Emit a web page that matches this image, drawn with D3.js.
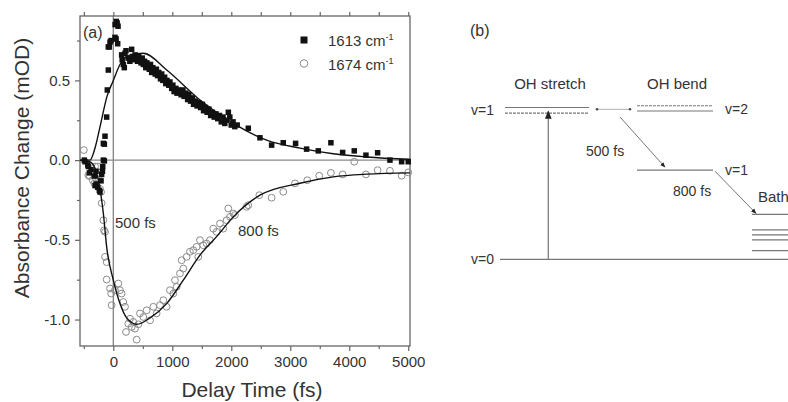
<!DOCTYPE html>
<html>
<head>
<meta charset="utf-8">
<script src="https://cdn.jsdelivr.net/npm/d3@7"></script>
<style>
  body { margin: 0; background: #fff; }
  text { font-family: "Liberation Sans", Arial, sans-serif; }
</style>
</head>
<body>
<script>
// ---- data ----
// 1613 cm-1 (filled squares): [delay fs, mOD]
const sq1613 = [
  [-492, 0], [-480, -0.01], [-434, -0.03], [-424, -0.04], [-406, -0.08], [-378, -0.06],
  [-322, -0.1], [-310, -0.16], [-293, -0.15], [-293, -0.07], [-265, -0.17], [-237, -0.19],
  [-226, -0.2], [-208, -0.13], [-198, -0.09], [-184, -0.07], [-180, -0.04], [-169, 0],
  [-152, -0.005], [-152, 0.1], [-169, 0.105], [-141, 0.15], [-113, 0.27], [-102, 0.44],
  [-85, 0.565], [-85, 0.71], [-68, 0.71], [-56, 0.74], [-39, 0.75], [28, 0.77], [47, 0.76],
  [74, 0.73], [30, 0.85], [50, 0.87], [65, 0.86], [80, 0.84],
  [141, 0.66], [150, 0.63], [170, 0.6], [186, 0.58], [198, 0.67], [215, 0.686], [250, 0.64],
  [280, 0.62], [311, 0.695], [330, 0.65], [350, 0.63], [370, 0.66], [390, 0.64], [410, 0.62],
  [430, 0.65], [450, 0.63], [470, 0.61], [490, 0.64], [510, 0.6], [530, 0.62], [550, 0.58],
  [570, 0.61], [590, 0.59], [610, 0.57], [630, 0.6], [650, 0.55], [670, 0.58], [690, 0.56],
  [710, 0.54], [730, 0.57], [750, 0.53], [770, 0.55], [800, 0.51], [820, 0.54], [840, 0.5],
  [870, 0.52], [890, 0.48], [910, 0.5], [940, 0.47], [960, 0.49], [990, 0.45], [1010, 0.47],
  [1030, 0.43], [1060, 0.45], [1080, 0.42], [1100, 0.44], [1130, 0.43], [1150, 0.41],
  [1180, 0.44], [1200, 0.4], [1230, 0.42], [1260, 0.38], [1280, 0.41], [1310, 0.37],
  [1340, 0.39], [1360, 0.35], [1390, 0.37], [1420, 0.34], [1450, 0.36], [1480, 0.33],
  [1510, 0.35], [1530, 0.31], [1560, 0.33], [1590, 0.3], [1620, 0.32], [1650, 0.28],
  [1680, 0.3], [1710, 0.27], [1740, 0.29], [1770, 0.26], [1800, 0.28], [1830, 0.24],
  [1860, 0.27], [1890, 0.23], [1920, 0.25], [1950, 0.3], [1975, 0.27], [2000, 0.22],
  [2030, 0.24], [2060, 0.21], [2100, 0.22], [2288, 0.2], [2486, 0.14], [2684, 0.094],
  [2881, 0.109], [3090, 0.105], [3277, 0.069], [3475, 0.058], [3689, 0.109], [3888, 0.048],
  [4085, 0.058], [4283, 0.031], [4481, 0.046], [4690, 0], [4888, -0.01], [5000, -0.01]
];

// 1674 cm-1 (open circles)
const ci1674 = [
  [-500, 0.063], [-424, -0.094], [-406, -0.1], [-349, -0.126], [-321, -0.146], [-310, -0.04],
  [-293, -0.115], [-265, -0.04], [-237, -0.094], [-226, -0.18], [-208, -0.2], [-198, -0.27],
  [-169, -0.377], [-158, -0.44], [-141, -0.45], [-141, -0.607], [-113, -0.64], [-113, -0.749],
  [-56, -0.805], [-37, -0.837], [-28, -0.91], [28, -0.816], [85, -0.774], [113, -0.816],
  [141, -0.837], [169, -0.89], [198, -0.92], [215, -1.078], [254, -1.026], [283, -0.995],
  [311, -1.047], [339, -1.015], [367, -1.057], [396, -1.126], [424, -1.03], [452, -0.962],
  [508, -0.984], [565, -0.942], [622, -1.005], [678, -0.92], [734, -0.962], [791, -0.91],
  [848, -0.879], [904, -0.92], [960, -0.816], [1017, -0.837], [1045, -0.753], [1073, -0.795],
  [1130, -0.711], [1158, -0.628], [1186, -0.68], [1243, -0.607], [1299, -0.575], [1356, -0.565],
  [1412, -0.544], [1440, -0.607], [1469, -0.502], [1525, -0.534], [1582, -0.523], [1638, -0.502],
  [1695, -0.43], [1751, -0.45], [1808, -0.398], [1864, -0.43], [1921, -0.377], [1949, -0.303],
  [1978, -0.356], [2034, -0.335], [2062, -0.345], [2260, -0.293], [2288, -0.283], [2475, -0.22],
  [2684, -0.236], [2881, -0.199], [3080, -0.146], [3288, -0.126], [3491, -0.098], [3689, -0.08],
  [3888, -0.09], [4085, -0.01], [4283, -0.09], [4481, -0.063], [4690, -0.067], [4888, -0.098],
  [5000, -0.077]
];

// fitted curves
const fit1613 = [
  [-565, 0], [-395, 0], [-300, 0.09], [-225, 0.21], [-107, 0.4], [0, 0.5], [113, 0.6],
  [283, 0.66], [508, 0.67], [905, 0.565], [1469, 0.377], [2034, 0.23], [2599, 0.125],
  [3164, 0.075], [3729, 0.04], [4294, 0.02], [5029, 0.005]
];
const fit1674 = [
  [-565, 0], [-400, -0.01], [-300, -0.06], [-254, -0.126], [-169, -0.335], [-113, -0.544],
  [0, -0.753], [113, -0.9], [226, -0.99], [396, -1.03], [622, -0.99], [904, -0.9],
  [1186, -0.753], [1469, -0.596], [1751, -0.48], [2034, -0.356], [2486, -0.22],
  [3164, -0.145], [3729, -0.105], [4294, -0.088], [5029, -0.08]
];

const xMajor = [0, 1000, 2000, 3000, 4000, 5000];
const xMinor = [-500, 500, 1500, 2500, 3500, 4500];
const yMajor = [-1.0, -0.5, 0.0, 0.5];
const yMinor = [-0.75, -0.25, 0.25, 0.75];
const legendLabels = ["1613 cm", "1674 cm"];

// panel (b): energy levels (relative energy, 0 = v=0, 1 = stretch v=1)
const stretchLevels = [{ e: 1.0, dash: null }, { e: 0.963, dash: "3,1" }];
const bendV2Levels = [{ e: 1.012, dash: "3,1" }, { e: 0.977, dash: null }];
const bendV1Level = 0.587;
const bathLevels = [0.296, 0.194, 0.161, 0.128, 0.057];

// ---- layout ----
const W = 788, H = 402;
const plot = { left: 80, right: 410, top: 16, bottom: 346 };

const svg = d3.select("body").append("svg")
  .attr("width", W).attr("height", H);

const x = d3.scaleLinear().domain([-565, 5030]).range([plot.left, plot.right]);
const y = d3.scaleLinear().domain([-1.166, 0.904]).range([plot.bottom, plot.top]);

const axisColor = "#666";
const labelColor = "#333";
const fmt = d => d3.format(".1f")(d).replace("\u2212", "-");

// zero lines
svg.append("line")
  .attr("x1", plot.left).attr("x2", plot.right)
  .attr("y1", y(0)).attr("y2", y(0))
  .attr("stroke", "#888").attr("stroke-width", 1.4);
svg.append("line")
  .attr("x1", x(0)).attr("x2", x(0))
  .attr("y1", plot.top).attr("y2", plot.bottom)
  .attr("stroke", "#888").attr("stroke-width", 1.4);

// axes
function styleAxis(g) {
  g.select(".domain").remove();
  g.selectAll(".tick line").attr("stroke", axisColor).attr("stroke-width", 1.2);
  g.selectAll(".tick text").attr("fill", labelColor)
    .style("font-family", "Liberation Sans, Arial, sans-serif").style("font-size", "15px");
}

svg.append("g").attr("transform", `translate(0,${plot.bottom})`)
  .call(d3.axisBottom(x).tickValues(xMajor).tickSize(5).tickPadding(5).tickFormat(d3.format("d")))
  .call(styleAxis);
svg.append("g").attr("transform", `translate(0,${plot.bottom})`)
  .call(d3.axisBottom(x).tickValues(xMinor).tickSize(3).tickFormat(""))
  .call(styleAxis);
svg.append("g").attr("transform", `translate(0,${plot.top})`)
  .call(d3.axisTop(x).tickValues(xMajor.concat(xMinor)).tickSize(4).tickFormat(""))
  .call(styleAxis);
svg.append("g").attr("transform", `translate(${plot.left},0)`)
  .call(d3.axisLeft(y).tickValues(yMajor).tickSize(5).tickPadding(5).tickFormat(fmt))
  .call(styleAxis);
svg.append("g").attr("transform", `translate(${plot.left},0)`)
  .call(d3.axisLeft(y).tickValues(yMinor).tickSize(3).tickFormat(""))
  .call(styleAxis);

// frame
svg.append("rect")
  .attr("x", plot.left).attr("y", plot.top)
  .attr("width", plot.right - plot.left).attr("height", plot.bottom - plot.top)
  .attr("fill", "none").attr("stroke", axisColor).attr("stroke-width", 1.3);

// axis titles
svg.append("text")
  .attr("x", (plot.left + plot.right) / 2 + 7).attr("y", 397)
  .attr("text-anchor", "middle").attr("fill", labelColor)
  .style("font-size", "21px")
  .text("Delay Time (fs)");
svg.append("text")
  .attr("transform", "translate(29,168) rotate(-90)")
  .attr("text-anchor", "middle").attr("fill", labelColor)
  .style("font-size", "21px")
  .text("Absorbance Change (mOD)");

// data: open circles
svg.append("g").selectAll("circle")
  .data(ci1674).enter().append("circle")
  .attr("cx", d => x(d[0])).attr("cy", d => y(d[1]))
  .attr("r", 3.4)
  .attr("fill", "none").attr("stroke", "#8a8a8a").attr("stroke-width", 1);

// data: filled squares
const s = 5.5;
svg.append("g").selectAll("rect")
  .data(sq1613).enter().append("rect")
  .attr("x", d => x(d[0]) - s / 2).attr("y", d => y(d[1]) - s / 2)
  .attr("width", s).attr("height", s)
  .attr("fill", "#111");

// fits
const line = d3.line().x(d => x(d[0])).y(d => y(d[1])).curve(d3.curveMonotoneX);
[fit1613, fit1674].forEach(f => {
  svg.append("path").datum(f)
    .attr("d", line).attr("fill", "none")
    .attr("stroke", "#111").attr("stroke-width", 1.4);
});

// annotations
svg.append("text").attr("x", 83).attr("y", 38).attr("fill", labelColor)
  .style("font-size", "16px").text("(a)");
svg.append("text").attr("x", 115).attr("y", 228).attr("fill", labelColor)
  .style("font-size", "15px").text("500 fs");
svg.append("text").attr("x", 238).attr("y", 236).attr("fill", labelColor)
  .style("font-size", "15px").text("800 fs");

// legend
const legend = svg.append("g");
legendLabels.forEach((lab, i) => {
  const ly = 40 + i * 23.5;
  if (i === 0) {
    legend.append("rect").attr("x", 300.5).attr("y", ly - 3.5)
      .attr("width", 7).attr("height", 7).attr("fill", "#111");
  } else {
    legend.append("circle").attr("cx", 304).attr("cy", ly).attr("r", 3.8)
      .attr("fill", "none").attr("stroke", "#8a8a8a").attr("stroke-width", 1);
  }
  const t = legend.append("text").attr("x", 328).attr("y", ly + 6)
    .attr("fill", labelColor).style("font-size", "15px");
  t.append("tspan").text(lab);
  t.append("tspan").attr("dy", -6).style("font-size", "9px").text("-1");
});

// ---- panel (b) ----
const e = d3.scaleLinear().domain([0, 1]).range([259.3, 107.5]);
const levelColor = "#777";

const defs = svg.append("defs");
defs.append("marker").attr("id", "arr")
  .attr("viewBox", "0 0 10 10").attr("refX", 9).attr("refY", 5)
  .attr("markerWidth", 6).attr("markerHeight", 6).attr("orient", "auto")
  .append("path").attr("d", "M0,1 L10,5 L0,9 z").attr("fill", "#222");

const b = svg.append("g");
b.append("text").attr("x", 470).attr("y", 36).attr("fill", labelColor)
  .style("font-size", "16px").text("(b)");
b.append("text").attr("x", 550).attr("y", 89).attr("text-anchor", "middle")
  .attr("fill", labelColor).style("font-size", "15px").text("OH stretch");
b.append("text").attr("x", 677).attr("y", 89).attr("text-anchor", "middle")
  .attr("fill", labelColor).style("font-size", "15px").text("OH bend");

const lvlText = (tx, ty, str) => b.append("text").attr("x", tx).attr("y", ty + 5)
  .attr("fill", labelColor).style("font-size", "14px").text(str);

// v=0
b.append("line").attr("x1", 500).attr("x2", W).attr("y1", e(0)).attr("y2", e(0))
  .attr("stroke", levelColor).attr("stroke-width", 1.3);
lvlText(471, e(0), "v=0");

// stretch v=1
stretchLevels.forEach(l => {
  b.append("line").attr("x1", 505).attr("x2", 589).attr("y1", e(l.e)).attr("y2", e(l.e))
    .attr("stroke", levelColor).attr("stroke-width", 1.1)
    .attr("stroke-dasharray", l.dash);
});
lvlText(471, e(0.985), "v=1");

// small connector with dots
b.append("line").attr("x1", 597).attr("x2", 630).attr("y1", e(0.988)).attr("y2", e(0.988))
  .attr("stroke", "#999").attr("stroke-width", 0.8);
[597, 630].forEach(cx => b.append("circle").attr("cx", cx).attr("cy", e(0.988))
  .attr("r", 1.2).attr("fill", "#444"));

// bend v=2
bendV2Levels.forEach(l => {
  b.append("line").attr("x1", 637).attr("x2", 713).attr("y1", e(l.e)).attr("y2", e(l.e))
    .attr("stroke", levelColor).attr("stroke-width", 1.1)
    .attr("stroke-dasharray", l.dash);
});
lvlText(725, e(0.99), "v=2");

// bend v=1
b.append("line").attr("x1", 637).attr("x2", 713).attr("y1", e(bendV1Level)).attr("y2", e(bendV1Level))
  .attr("stroke", levelColor).attr("stroke-width", 1.2);
lvlText(725, e(bendV1Level), "v=1");

// bath
bathLevels.forEach(l => {
  b.append("line").attr("x1", 752).attr("x2", W).attr("y1", e(l)).attr("y2", e(l))
    .attr("stroke", levelColor).attr("stroke-width", 1.2);
});
b.append("text").attr("x", 758).attr("y", 202).attr("fill", labelColor)
  .style("font-size", "15px").text("Bath");

// pump arrow
b.append("line").attr("x1", 548.3).attr("x2", 548.3).attr("y1", e(0)).attr("y2", e(0.975))
  .attr("stroke", "#888").attr("stroke-width", 1.4).attr("marker-end", "url(#arr)");

// relaxation arrows
b.append("line").attr("x1", 620).attr("y1", 117).attr("x2", 665).attr("y2", e(bendV1Level) - 3)
  .attr("stroke", "#666").attr("stroke-width", 0.9).attr("marker-end", "url(#arr)");
b.append("line").attr("x1", 715).attr("y1", e(bendV1Level) + 1).attr("x2", 756).attr("y2", e(bathLevels[0]) - 1)
  .attr("stroke", "#666").attr("stroke-width", 0.9).attr("marker-end", "url(#arr)");

b.append("text").attr("x", 586).attr("y", 156).attr("fill", labelColor)
  .style("font-size", "14px").text("500 fs");
b.append("text").attr("x", 673).attr("y", 196).attr("fill", labelColor)
  .style("font-size", "14px").text("800 fs");
</script>
</body>
</html>
